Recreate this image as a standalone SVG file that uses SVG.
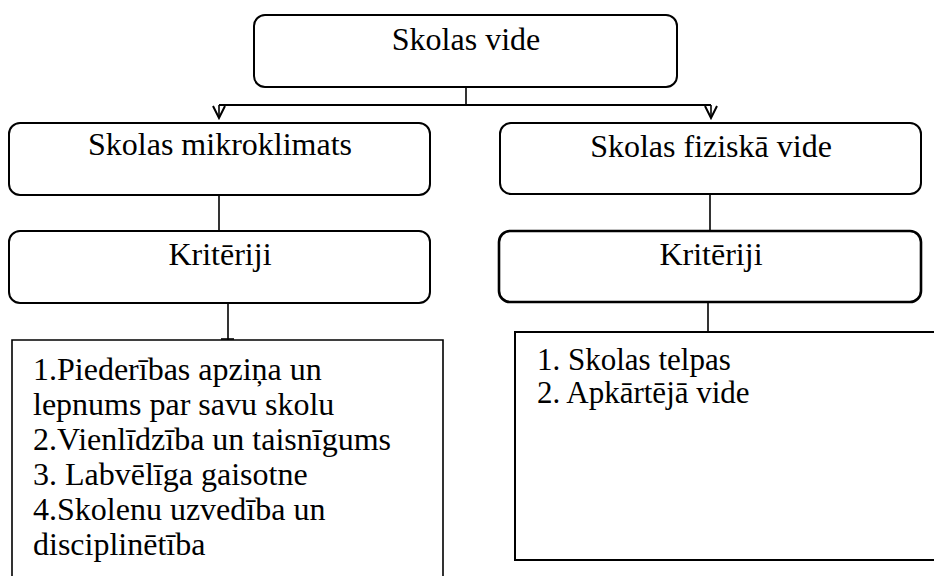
<svg xmlns="http://www.w3.org/2000/svg" width="934" height="576" viewBox="0 0 934 576">
<style>
.box{fill:#fff;stroke:#000;stroke-width:2}
.thick{stroke-width:2.6}
.list{fill:none;stroke:#000;stroke-width:1.6}
.t{font-family:"Liberation Serif","Times New Roman",serif;font-size:32px;fill:#000}
.c{text-anchor:middle}
.conn{fill:none;stroke:#000;stroke-width:1.6}
</style>
<defs>
<marker id="arr" viewBox="-14 -8 16 16" refX="0" refY="0" markerWidth="16" markerHeight="16" markerUnits="userSpaceOnUse" orient="auto">
<path d="M-12,-6 L0,0 L-12,6" fill="none" stroke="#000" stroke-width="2"/>
</marker>
</defs>
<rect width="934" height="576" fill="#fff"/>
<g id="connectors">
<path class="conn" d="M466,87 V105"/>
<path class="conn" d="M219,105 H711" style="stroke-width:2"/>
<path class="conn" d="M219,105 V118" marker-end="url(#arr)"/>
<path class="conn" d="M711,105 V118" marker-end="url(#arr)"/>
<path class="conn" d="M219,195 V231"/>
<path class="conn" d="M710,195 V231"/>
<path class="conn" d="M228,303 V340"/>
<path class="conn" d="M221,339 H234"/>
<path class="conn" d="M708,303 V332"/>
</g>
<g id="skolas-vide">
<rect class="box" x="254" y="15" width="423" height="72" rx="11"/>
<text class="t c" x="466" y="50">Skolas vide</text>
</g>
<g id="mikroklimats">
<rect class="box" x="9" y="123" width="421" height="72" rx="11"/>
<text class="t c" x="220" y="155">Skolas mikroklimats</text>
</g>
<g id="fiziska-vide">
<rect class="box" x="500" y="123" width="421" height="71" rx="11"/>
<text class="t c" x="711" y="157">Skolas fiziskā vide</text>
</g>
<g id="kriteriji-left">
<rect class="box" x="9" y="231" width="421" height="72" rx="11"/>
<text class="t c" x="220" y="265">Kritēriji</text>
</g>
<g id="kriteriji-right">
<rect class="box thick" x="499" y="231" width="422" height="71" rx="11"/>
<text class="t c" x="711" y="265">Kritēriji</text>
</g>
<g id="list-left">
<path class="list" d="M12,590 V340 H443 V590"/>
<text class="t" x="33" y="380">1.Piederības apziņa un</text>
<text class="t" x="33" y="415">lepnums par savu skolu</text>
<text class="t" x="33" y="450">2.Vienlīdzība un taisnīgums</text>
<text class="t" x="33" y="485">3. Labvēlīga gaisotne</text>
<text class="t" x="33" y="520">4.Skolenu uzvedība un</text>
<text class="t" x="33" y="555">disciplinētība</text>
</g>
<g id="list-right">
<path class="list" d="M940,332 H515 V560 H940" style="stroke-width:2"/>
<text class="t" x="537" y="370" style="font-size:31px">1. Skolas telpas</text>
<text class="t" x="537" y="403" style="font-size:31px">2. Apkārtējā vide</text>
</g>
</svg>
